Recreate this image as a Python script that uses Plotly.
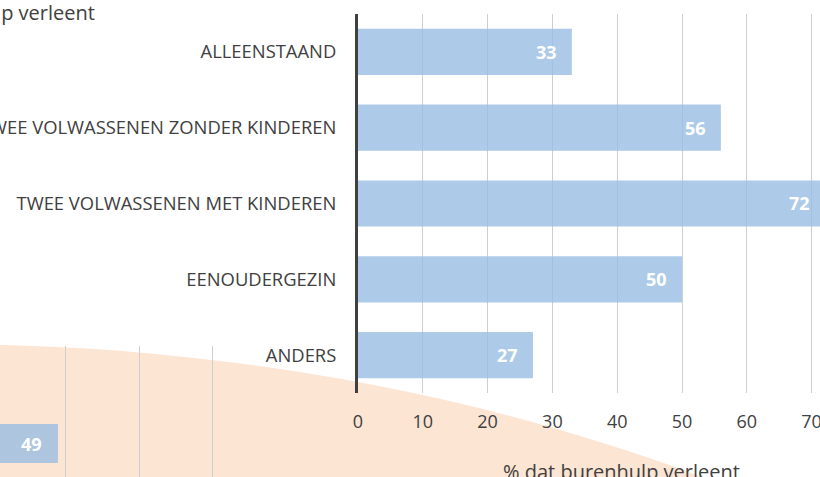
import plotly.graph_objects as go

# ---- data ----
categories = [
    "ALLEENSTAAND",
    "TWEE VOLWASSENEN ZONDER KINDEREN",
    "TWEE VOLWASSENEN MET KINDEREN",
    "EENOUDERGEZIN",
    "ANDERS",
]
values = [33, 56, 72, 50, 27]
second_categories = [0]
second_values = [49]
x_ticks = [0, 10, 20, 30, 40, 50, 60, 70]
second_ticks = [50, 60, 70]
axis_title = "% dat burenhulp verleent"

# ---- styling ----
W, H = 840, 477          # slightly wider than the window: the chart runs off the right edge
FONT = "Open Sans"
TXT = "#404040"
GRID = "#cfcfcf"
BAR = "rgba(150,188,226,0.78)"
PEACH = "#fde5d4"
X0 = 358                 # pixel of value 0 on the main axis
PXU = 6.48               # pixels per unit on the main axis


def px(x):
    return x / W


def py(y):
    return 1 - y / H


fig = go.Figure()

fig.add_trace(go.Bar(
    x=values, y=categories, orientation="h",
    marker=dict(color=BAR, line=dict(width=0)),
    xaxis="x", yaxis="y", hoverinfo="skip",
))
fig.add_trace(go.Bar(
    x=second_values, y=second_categories, orientation="h", width=0.6,
    marker=dict(color=BAR, line=dict(width=0)),
    xaxis="x2", yaxis="y2", hoverinfo="skip",
))

annotations = []
for c, v in zip(categories, values):
    annotations.append(dict(
        x=v, y=c, xref="x", yref="y", text=f"<b>{v}</b>", showarrow=False,
        xanchor="right", yanchor="middle", xshift=-13,
        font=dict(family=FONT, size=18, color="white"),
    ))
for c, v in zip(second_categories, second_values):
    annotations.append(dict(
        x=v, y=c, xref="x2", yref="y2", text=f"<b>{v}</b>", showarrow=False,
        xanchor="right", yanchor="middle", xshift=-14,
        font=dict(family=FONT, size=18, color="white"),
    ))
# axis title of the main chart
annotations.append(dict(
    x=px(621), y=py(456), xref="paper", yref="paper", text=axis_title,
    showarrow=False, xanchor="center", yanchor="top",
    font=dict(family=FONT, size=20, color=TXT),
))
# cut-off title at top left (belongs to a neighbouring chart)
annotations.append(dict(
    x=px(97), y=py(-3), xref="paper", yref="paper", text=axis_title,
    showarrow=False, xanchor="right", yanchor="top",
    font=dict(family=FONT, size=20, color=TXT),
))

fig.update_layout(
    template="none",
    width=W, height=H,
    margin=dict(l=0, r=0, t=0, b=0, pad=0),
    paper_bgcolor="white",
    plot_bgcolor="rgba(0,0,0,0)",
    showlegend=False,
    bargap=0.39,
    font=dict(family=FONT, size=18, color=TXT),
    xaxis=dict(
        domain=[px(X0), 1], anchor="y",
        range=[0, (W - X0) / PXU],
        tickmode="array", tickvals=x_ticks,
        showgrid=True, gridcolor=GRID, gridwidth=1,
        zeroline=False, showline=False, ticks="",
        tickfont=dict(family=FONT, size=18, color=TXT),
        ticklabelstandoff=16, automargin=False, fixedrange=True,
    ),
    yaxis=dict(
        domain=[py(393), py(14)], anchor="x",
        type="category", categoryorder="array", categoryarray=categories,
        range=[4.5, -0.5],
        showgrid=False, zeroline=False,
        showline=True, linecolor=TXT, linewidth=3, ticks="",
        tickfont=dict(family=FONT, size=18.4, color=TXT),
        ticklabelstandoff=15, automargin=False, fixedrange=True,
    ),
    xaxis2=dict(
        domain=[0, px(250)], anchor="y2",
        range=[41.14, 41.14 + 250 / 7.37],
        tickmode="array", tickvals=second_ticks,
        showgrid=True, gridcolor=GRID, gridwidth=1,
        zeroline=False, showline=False, showticklabels=False, ticks="",
        automargin=False, fixedrange=True,
    ),
    yaxis2=dict(
        domain=[0, py(346)], anchor="x2",
        range=[-0.515, 1.5],
        showgrid=False, zeroline=False, showline=False,
        showticklabels=False, ticks="", automargin=False, fixedrange=True,
    ),
    shapes=[dict(
        type="circle", xref="paper", yref="paper",
        x0=px(-60 - 1500), x1=px(-60 + 1500),
        y0=py(344 + 2 * 960), y1=py(344),
        fillcolor=PEACH, line=dict(width=0), layer="below",
    )],
    annotations=annotations,
)

fig.write_html(
    "out.html",
    config={"displayModeBar": False},
    post_script="document.body.style.margin='0';document.body.style.overflow='hidden';"
                "document.documentElement.style.overflow='hidden';",
)
